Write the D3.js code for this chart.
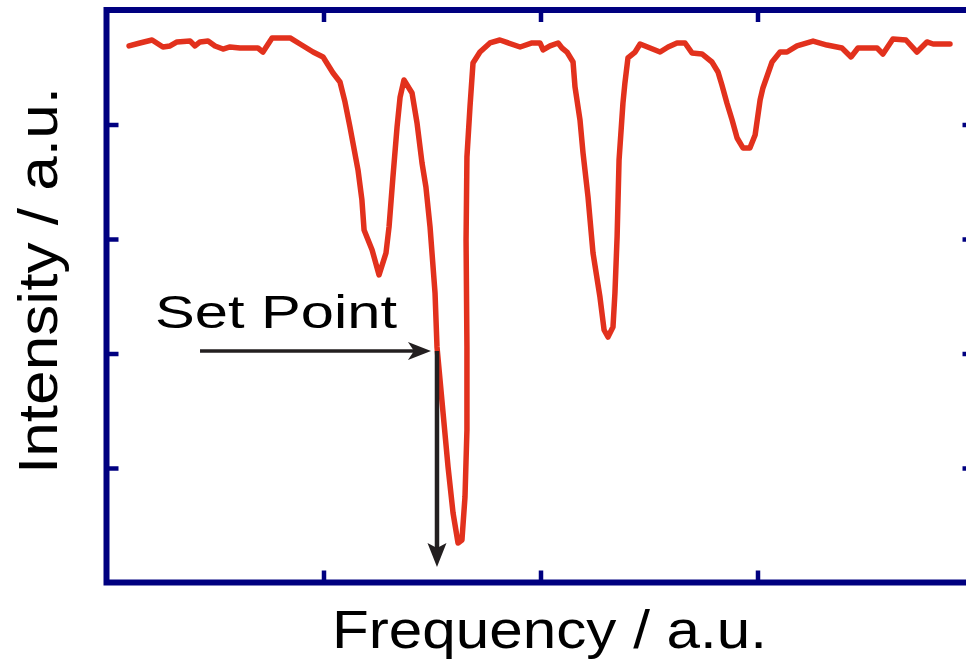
<!DOCTYPE html>
<html>
<head>
<meta charset="utf-8">
<script src="https://cdn.jsdelivr.net/npm/d3@7"></script>
<style>
  html, body { margin: 0; padding: 0; background: #ffffff; }
  svg { display: block; }
  text { font-family: "Liberation Sans", Arial, sans-serif; fill: #000; }
</style>
</head>
<body>
<svg id="chart" width="966" height="661"></svg>
<script>
// ---- data (arbitrary units) ----
const frequency = [
  0.104, 0.154, 0.210, 0.260, 0.293, 0.325, 0.385, 0.408, 0.431, 0.468,
  0.500, 0.537, 0.569, 0.615, 0.698, 0.721, 0.763, 0.846, 0.892, 0.952,
  0.998, 1.044, 1.076, 1.099, 1.122, 1.159, 1.177, 1.187, 1.224, 1.256,
  1.288, 1.302, 1.320, 1.339, 1.353, 1.371, 1.408, 1.431, 1.454, 1.472,
  1.491, 1.514, 1.523, 1.551, 1.574, 1.597, 1.620, 1.638, 1.652, 1.661,
  1.661, 1.657, 1.661, 1.675, 1.689, 1.721, 1.767, 1.813, 1.906, 1.961,
  1.998, 2.012, 2.044, 2.081, 2.099, 2.122, 2.150, 2.159, 2.182, 2.196,
  2.219, 2.242, 2.274, 2.293, 2.311, 2.334, 2.343, 2.353, 2.362, 2.380,
  2.389, 2.403, 2.436, 2.459, 2.505, 2.551, 2.588, 2.629, 2.666, 2.698,
  2.744, 2.790, 2.818, 2.836, 2.859, 2.883, 2.906, 2.933, 2.965, 2.989,
  3.012, 3.025, 3.067, 3.104, 3.136, 3.182, 3.256, 3.320, 3.389, 3.431,
  3.463, 3.551, 3.578, 3.624, 3.684, 3.735, 3.781, 3.809, 3.887
];
const intensity = [
  4.686, 4.712, 4.738, 4.677, 4.686, 4.721, 4.729, 4.686, 4.721, 4.729,
  4.686, 4.659, 4.677, 4.668, 4.668, 4.633, 4.756, 4.756, 4.703, 4.633,
  4.590, 4.450, 4.371, 4.197, 3.978, 3.603, 3.341, 3.079, 2.904, 2.686,
  2.878, 3.105, 3.542, 3.978, 4.240, 4.389, 4.275, 4.013, 3.664, 3.454,
  3.105, 2.528, 2.057, 1.480, 1.009, 0.607, 0.345, 0.371, 0.747, 1.332,
  2.057, 2.991, 3.716, 4.153, 4.537, 4.633, 4.712, 4.738, 4.677, 4.712,
  4.712, 4.651, 4.686, 4.712, 4.668, 4.633, 4.546, 4.328, 4.039, 3.751,
  3.367, 2.878, 2.493, 2.205, 2.144, 2.231, 2.528, 3.018, 3.690, 4.188,
  4.362, 4.581, 4.633, 4.703, 4.668, 4.633, 4.677, 4.712, 4.712, 4.625,
  4.616, 4.546, 4.459, 4.345, 4.188, 4.039, 3.882, 3.795, 3.795, 3.908,
  4.214, 4.319, 4.546, 4.633, 4.633, 4.686, 4.729, 4.694, 4.668, 4.590,
  4.668, 4.668, 4.616, 4.747, 4.738, 4.633, 4.721, 4.703, 4.703
];
const xTicks = [1, 2, 3];
const yTicks = [1, 2, 3, 4];
const xLabel = "Frequency / a.u.";
const yLabel = "Intensity / a.u.";
const setPointLabel = "Set Point";
const setPoint = { frequency: 1.523, intensity: 2.022 };
const arrowStartFrequency = 0.431;
const arrowEndIntensity = 0.135;

// ---- layout ----
const svg = d3.select("#chart");
const x = d3.scaleLinear().domain([0, 4]).range([106.5, 974.5]);
const y = d3.scaleLinear().domain([0, 5]).range([582.5, 10]);
const frameColor = "#000080";
const lineColor = "#e2311d";
const arrowColor = "#231f20";

// frame
svg.append("rect")
  .attr("x", x(0)).attr("y", y(5))
  .attr("width", x(4) - x(0)).attr("height", y(0) - y(5))
  .attr("fill", "none").attr("stroke", frameColor).attr("stroke-width", 6);

// inward ticks on all four sides
function styleAxis(g) {
  g.select(".domain").remove();
  g.selectAll(".tick line").attr("stroke", frameColor).attr("stroke-width", 4.5);
  g.selectAll(".tick text").remove();
}
svg.append("g").attr("transform", `translate(0,${y(0)})`)
  .call(d3.axisBottom(x).tickValues(xTicks).tickSize(-12)).call(styleAxis);
svg.append("g").attr("transform", `translate(0,${y(5)})`)
  .call(d3.axisTop(x).tickValues(xTicks).tickSize(-12)).call(styleAxis);
svg.append("g").attr("transform", `translate(${x(0)},0)`)
  .call(d3.axisLeft(y).tickValues(yTicks).tickSize(-12)).call(styleAxis);
svg.append("g").attr("transform", `translate(${x(4)},0)`)
  .call(d3.axisRight(y).tickValues(yTicks).tickSize(-12)).call(styleAxis);

// spectrum line
const pts = frequency.map((f, i) => [f, intensity[i]]);
svg.append("path")
  .datum(pts)
  .attr("d", d3.line().x(d => x(d[0])).y(d => y(d[1])))
  .attr("fill", "none").attr("stroke", lineColor)
  .attr("stroke-width", 5.5).attr("stroke-linejoin", "round").attr("stroke-linecap", "round");

// arrows
const sx = x(setPoint.frequency), sy = y(setPoint.intensity);
const hx0 = x(arrowStartFrequency);
svg.append("line").attr("x1", hx0).attr("y1", sy).attr("x2", sx - 20).attr("y2", sy)
  .attr("stroke", arrowColor).attr("stroke-width", 3.5);
svg.append("path")
  .attr("d", `M${sx - 6},${sy} L${sx - 29},${sy - 9} L${sx - 23},${sy} L${sx - 29},${sy + 9} Z`)
  .attr("fill", arrowColor);
const vy1 = y(arrowEndIntensity);
svg.append("line").attr("x1", sx).attr("y1", sy).attr("x2", sx).attr("y2", vy1 - 18)
  .attr("stroke", arrowColor).attr("stroke-width", 4.5);
svg.append("path")
  .attr("d", `M${sx},${vy1} L${sx - 9.5},${vy1 - 24} L${sx},${vy1 - 19} L${sx + 9.5},${vy1 - 24} Z`)
  .attr("fill", arrowColor);

// texts
svg.append("text").attr("x", 155).attr("y", 328)
  .attr("font-size", 47).attr("textLength", 242).attr("lengthAdjust", "spacingAndGlyphs")
  .text(setPointLabel);
svg.append("text").attr("x", 332).attr("y", 648)
  .attr("font-size", 53).attr("textLength", 435).attr("lengthAdjust", "spacingAndGlyphs")
  .text(xLabel);
svg.append("text").attr("transform", "translate(57,474) rotate(-90)")
  .attr("font-size", 55).attr("textLength", 387).attr("lengthAdjust", "spacingAndGlyphs")
  .text(yLabel);
</script>
</body>
</html>
